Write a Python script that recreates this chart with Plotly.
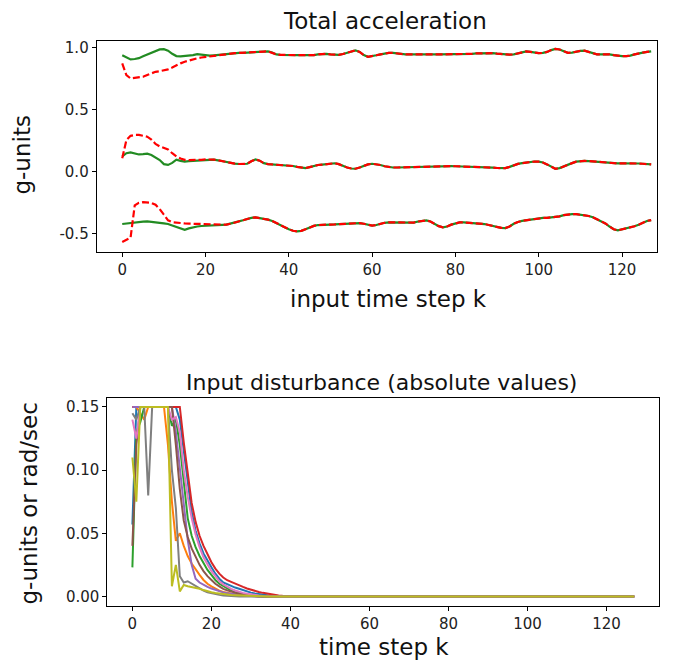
import plotly.graph_objects as go

# ---------------- data ----------------
k_steps = list(range(128))

true_upper = [0.939,0.92,0.905,0.908,0.915,0.93,0.945,0.96,0.975,0.985,0.987,0.975,0.95,0.932,0.93,0.932,0.933,0.94,0.947,0.942,
              0.935,0.935,0.938,0.942,0.944,0.947,0.952,0.955,0.957,0.958,0.96,0.96,0.96,0.965,0.968,0.97,0.96,0.945,0.942,0.94,
              0.94,0.94,0.939,0.939,0.938,0.937,0.939,0.945,0.95,0.95,0.946,0.943,0.942,0.948,0.96,0.972,0.978,0.965,0.94,0.926,
              0.93,0.938,0.945,0.952,0.957,0.957,0.952,0.947,0.945,0.945,0.946,0.947,0.947,0.946,0.945,0.945,0.945,0.945,0.944,0.945,
              0.946,0.947,0.947,0.948,0.95,0.953,0.955,0.956,0.957,0.955,0.951,0.947,0.944,0.943,0.945,0.955,0.965,0.97,0.966,0.958,
              0.955,0.957,0.965,0.98,0.99,0.985,0.97,0.958,0.96,0.968,0.974,0.975,0.966,0.953,0.945,0.945,0.947,0.946,0.94,0.933,
              0.931,0.932,0.935,0.945,0.955,0.96,0.965,0.97]
est_upper_head = [0.872,0.778,0.752,0.755,0.76,0.765,0.78,0.795,0.805,0.81,0.815,0.825,0.84,0.858,0.873,0.886,0.897,0.906,0.914,0.92,
                  0.925,0.93,0.935,0.939,0.943,0.947]

true_mid = [0.125,0.15,0.157,0.148,0.14,0.142,0.146,0.135,0.115,0.095,0.062,0.056,0.072,0.098,0.088,0.083,0.086,0.088,0.09,0.095,
            0.1,0.101,0.098,0.093,0.085,0.078,0.072,0.066,0.063,0.061,0.065,0.085,0.1,0.09,0.07,0.062,0.06,0.058,0.056,0.055,
            0.052,0.047,0.04,0.033,0.03,0.038,0.048,0.055,0.058,0.06,0.065,0.069,0.062,0.048,0.035,0.027,0.025,0.035,0.05,0.06,
            0.065,0.063,0.055,0.045,0.038,0.035,0.035,0.036,0.036,0.035,0.036,0.038,0.04,0.042,0.045,0.047,0.048,0.048,0.047,0.046,
            0.045,0.044,0.043,0.043,0.043,0.043,0.042,0.04,0.037,0.034,0.031,0.029,0.03,0.04,0.055,0.064,0.07,0.075,0.08,0.083,
            0.082,0.075,0.06,0.04,0.025,0.03,0.045,0.056,0.07,0.082,0.088,0.088,0.087,0.084,0.08,0.075,0.071,0.069,0.068,0.068,
            0.069,0.07,0.069,0.068,0.067,0.065,0.062,0.06]
est_mid_head = [0.11,0.255,0.29,0.297,0.297,0.292,0.283,0.26,0.225,0.205,0.195,0.18,0.15,0.125,0.108,0.097,0.094,0.093,0.095,0.097,
                0.1]

true_low = [-0.42,-0.415,-0.41,-0.405,-0.402,-0.4,-0.398,-0.4,-0.405,-0.41,-0.415,-0.42,-0.432,-0.445,-0.457,-0.466,-0.455,-0.445,-0.44,-0.436,
            -0.433,-0.431,-0.43,-0.428,-0.426,-0.425,-0.418,-0.408,-0.399,-0.39,-0.38,-0.37,-0.367,-0.372,-0.38,-0.385,-0.395,-0.41,-0.425,-0.445,
            -0.462,-0.474,-0.479,-0.475,-0.462,-0.447,-0.435,-0.428,-0.425,-0.424,-0.424,-0.423,-0.421,-0.42,-0.418,-0.415,-0.412,-0.412,-0.418,-0.428,
            -0.433,-0.428,-0.418,-0.41,-0.407,-0.408,-0.41,-0.411,-0.412,-0.412,-0.408,-0.4,-0.393,-0.391,-0.4,-0.418,-0.437,-0.447,-0.44,-0.425,
            -0.413,-0.407,-0.407,-0.409,-0.411,-0.412,-0.415,-0.42,-0.428,-0.437,-0.445,-0.451,-0.453,-0.44,-0.418,-0.403,-0.395,-0.39,-0.385,-0.378,
            -0.373,-0.371,-0.37,-0.367,-0.364,-0.358,-0.348,-0.341,-0.34,-0.341,-0.344,-0.348,-0.355,-0.365,-0.38,-0.395,-0.415,-0.44,-0.462,-0.471,
            -0.463,-0.452,-0.445,-0.438,-0.425,-0.408,-0.395,-0.388]
est_low_head = [-0.565,-0.545,-0.53,-0.27,-0.25,-0.244,-0.245,-0.25,-0.265,-0.3,-0.345,-0.39,-0.405,-0.41,-0.413,-0.415,-0.417,-0.418,-0.418,-0.417,
                -0.417,-0.418,-0.42,-0.423,-0.425]

est_upper = est_upper_head + true_upper[len(est_upper_head):]
est_mid = est_mid_head + true_mid[len(est_mid_head):]
est_low = est_low_head + true_low[len(est_low_head):]

dist_blue = [0.057,0.15,0.15,0.15,0.15,0.15,0.15,0.15,0.15,0.15,0.15,0.15,0.14,0.115,0.088,0.067,0.052,0.042,0.034,0.028,
             0.023,0.018,0.014,0.011,0.0095,0.0085,0.007,0.006,0.0048,0.0038,0.003,0.0023,0.0017,0.0012,0.0008,0.0005,0.0003,0.0001,0,0,
             0,0,0,0,0,0,0,0,0,0,0,0,0,0,0,0,0,0,0,0,0,0,0,0,0,0,0,0,0,0,0,0,0,0,0,0,0,0,0,0,
             0,0,0,0,0,0,0,0,0,0,0,0,0,0,0,0,0,0,0,0,0,0,0,0,0,0,0,0,0,0,0,0,0,0,0,0,0,0,0,0,
             0,0,0,0,0,0,0,0]
dist_orange = [0.15,0.15,0.145,0.14,0.15,0.15,0.15,0.15,0.15,0.12,0.075,0.044,0.05,0.04,0.032,0.026,0.021,0.017,0.013,0.01,
               0.008,0.006,0.0045,0.0035,0.0027,0.002,0.0015,0.001,0.0007,0.0005,0.0003,0.0002,0,0,0,0,0,0,0,0,
               0,0,0,0,0,0,0,0,0,0,0,0,0,0,0,0,0,0,0,0,0,0,0,0,0,0,0,0,0,0,0,0,0,0,0,0,0,0,0,0,
               0,0,0,0,0,0,0,0,0,0,0,0,0,0,0,0,0,0,0,0,0,0,0,0,0,0,0,0,0,0,0,0,0,0,0,0,0,0,0,0,
               0,0,0,0,0,0,0,0]
dist_green = [0.023,0.13,0.138,0.15,0.15,0.15,0.15,0.15,0.15,0.15,0.135,0.14,0.12,0.09,0.062,0.048,0.039,0.032,0.026,0.021,
              0.017,0.013,0.01,0.008,0.006,0.0045,0.0034,0.0025,0.0018,0.0013,0.0009,0.0006,0.0004,0.0002,0,0,0,0,0,0,
              0,0,0,0,0,0,0,0,0,0,0,0,0,0,0,0,0,0,0,0,0,0,0,0,0,0,0,0,0,0,0,0,0,0,0,0,0,0,0,0,
              0,0,0,0,0,0,0,0,0,0,0,0,0,0,0,0,0,0,0,0,0,0,0,0,0,0,0,0,0,0,0,0,0,0,0,0,0,0,0,0,
              0,0,0,0,0,0,0,0]
dist_red = [0.15,0.15,0.15,0.15,0.15,0.15,0.15,0.15,0.15,0.15,0.15,0.15,0.15,0.122,0.096,0.074,0.059,0.048,0.04,0.033,
            0.027,0.022,0.018,0.015,0.0128,0.0115,0.01,0.0087,0.0075,0.0063,0.0052,0.0043,0.0035,0.0028,0.0022,0.0017,0.0012,0.0008,0.0005,0.0003,
            0.0001,0,0,0,0,0,0,0,0,0,0,0,0,0,0,0,0,0,0,0,0,0,0,0,0,0,0,0,0,0,0,0,0,0,0,0,0,0,0,0,
            0,0,0,0,0,0,0,0,0,0,0,0,0,0,0,0,0,0,0,0,0,0,0,0,0,0,0,0,0,0,0,0,0,0,0,0,0,0,0,0,
            0,0,0,0,0,0,0,0]
dist_purple = [0.15,0.15,0.15,0.15,0.15,0.15,0.15,0.15,0.15,0.15,0.15,0.13,0.1,0.07,0.045,0.025,0.014,0.011,0.009,0.0075,
               0.0062,0.005,0.004,0.0032,0.0025,0.002,0.0015,0.0011,0.0008,0.0005,0.0003,0,0,0,0,0,0,0,0,0,
               0,0,0,0,0,0,0,0,0,0,0,0,0,0,0,0,0,0,0,0,0,0,0,0,0,0,0,0,0,0,0,0,0,0,0,0,0,0,0,0,
               0,0,0,0,0,0,0,0,0,0,0,0,0,0,0,0,0,0,0,0,0,0,0,0,0,0,0,0,0,0,0,0,0,0,0,0,0,0,0,0,
               0,0,0,0,0,0,0,0]
dist_brown = [0.04,0.12,0.15,0.15,0.15,0.15,0.15,0.15,0.15,0.15,0.15,0.12,0.085,0.06,0.047,0.038,0.031,0.025,0.02,0.016,
              0.013,0.01,0.008,0.006,0.0048,0.0037,0.0028,0.0021,0.0015,0.001,0.0007,0.0004,0.0002,0,0,0,0,0,0,0,
              0,0,0,0,0,0,0,0,0,0,0,0,0,0,0,0,0,0,0,0,0,0,0,0,0,0,0,0,0,0,0,0,0,0,0,0,0,0,0,0,
              0,0,0,0,0,0,0,0,0,0,0,0,0,0,0,0,0,0,0,0,0,0,0,0,0,0,0,0,0,0,0,0,0,0,0,0,0,0,0,0,
              0,0,0,0,0,0,0,0]
dist_pink = [0.14,0.125,0.15,0.15,0.15,0.15,0.15,0.15,0.15,0.15,0.14,0.142,0.13,0.1,0.079,0.062,0.049,0.039,0.031,0.025,
             0.02,0.016,0.012,0.0095,0.0075,0.006,0.0047,0.0036,0.0028,0.0021,0.0015,0.001,0.0007,0.0004,0.0002,0,0,0,0,0,
             0,0,0,0,0,0,0,0,0,0,0,0,0,0,0,0,0,0,0,0,0,0,0,0,0,0,0,0,0,0,0,0,0,0,0,0,0,0,0,0,
             0,0,0,0,0,0,0,0,0,0,0,0,0,0,0,0,0,0,0,0,0,0,0,0,0,0,0,0,0,0,0,0,0,0,0,0,0,0,0,0,
             0,0,0,0,0,0,0,0]
dist_gray = [0.145,0.14,0.15,0.15,0.08,0.15,0.15,0.15,0.15,0.15,0.1,0.07,0.016,0.011,0.012,0.01,0.008,0.006,0.0045,0.0033,
             0.0024,0.0017,0.0012,0.0008,0.0005,0.0003,0,0,0,0,0,0,0,0,0,0,0,0,0,0,
             0,0,0,0,0,0,0,0,0,0,0,0,0,0,0,0,0,0,0,0,0,0,0,0,0,0,0,0,0,0,0,0,0,0,0,0,0,0,0,0,
             0,0,0,0,0,0,0,0,0,0,0,0,0,0,0,0,0,0,0,0,0,0,0,0,0,0,0,0,0,0,0,0,0,0,0,0,0,0,0,0,
             0,0,0,0,0,0,0,0]
dist_olive = [0.11,0.075,0.15,0.15,0.15,0.15,0.15,0.15,0.15,0.15,0.008,0.025,0.004,0.009,0.008,0.0075,0.007,0.006,0.005,0.004,
              0.0033,0.0027,0.0022,0.0018,0.0015,0.0012,0.001,0.0008,0.0006,0.0005,0.0004,0.0003,0.0002,0.0001,0,0,0,0,0,0,
              0,0,0,0,0,0,0,0,0,0,0,0,0,0,0,0,0,0,0,0,0,0,0,0,0,0,0,0,0,0,0,0,0,0,0,0,0,0,0,0,
              0,0,0,0,0,0,0,0,0,0,0,0,0,0,0,0,0,0,0,0,0,0,0,0,0,0,0,0,0,0,0,0,0,0,0,0,0,0,0,0,
              0,0,0,0,0,0,0,0]

dist_series = [dist_blue, dist_orange, dist_green, dist_red, dist_purple,
               dist_brown, dist_pink, dist_gray, dist_olive]
dist_colors = ["#1f77b4", "#ff7f0e", "#2ca02c", "#d62728", "#9467bd",
               "#8c564b", "#e377c2", "#7f7f7f", "#bcbd22"]

x_ticks = [0, 20, 40, 60, 80, 100, 120]
top_yticks = [-0.5, 0.0, 0.5, 1.0]
top_yticklabels = ["-0.5", "0.0", "0.5", "1.0"]
bot_yticks = [0.0, 0.05, 0.10, 0.15]
bot_yticklabels = ["0.00", "0.05", "0.10", "0.15"]

# ---------------- figure ----------------
W, H = 678, 662
FONT = "DejaVu Sans"
GREEN = "#228b22"
RED = "#ff0000"

fig = go.Figure()
for s in [true_upper, true_mid, true_low]:
    fig.add_trace(go.Scatter(x=k_steps, y=s, mode="lines", xaxis="x", yaxis="y",
                             line=dict(color=GREEN, width=2.2), showlegend=False))
for s in [est_upper, est_mid, est_low]:
    fig.add_trace(go.Scatter(x=k_steps, y=s, mode="lines", xaxis="x", yaxis="y",
                             line=dict(color=RED, width=2.2, dash="7px,3px"), showlegend=False))
for s, c in zip(dist_series, dist_colors):
    fig.add_trace(go.Scatter(x=k_steps, y=s, mode="lines", xaxis="x2", yaxis="y2",
                             line=dict(color=c, width=2), showlegend=False))

def px_x(p):
    return p / W

def px_y(p):
    return 1 - p / H

axis_common = dict(showline=True, mirror=True, linecolor="#000000", linewidth=1,
                   ticks="outside", ticklen=4, tickwidth=1, tickcolor="#000000",
                   showgrid=False, zeroline=False,
                   tickfont=dict(family=FONT, size=15, color="#222222"))

fig.update_layout(
    width=W, height=H, margin=dict(l=0, r=0, t=0, b=0),
    paper_bgcolor="white", plot_bgcolor="white",
    font=dict(family=FONT, color="#111111"),
    xaxis=dict(domain=[px_x(96.7), px_x(657)], range=[-6.13, 128.4],
               tickvals=x_ticks, anchor="y", **axis_common),
    yaxis=dict(domain=[px_y(251), px_y(39)], range=[-0.647, 1.054],
               tickvals=top_yticks, ticktext=top_yticklabels, anchor="x", **axis_common),
    xaxis2=dict(domain=[px_x(107.3), px_x(659.3)], range=[-6.35, 133.35],
                tickvals=x_ticks, anchor="y2", **axis_common),
    yaxis2=dict(domain=[px_y(605.7), px_y(396.7)], range=[-0.0075, 0.1575],
                tickvals=bot_yticks, ticktext=bot_yticklabels, anchor="x2", **axis_common),
)

annots = [
    dict(text="Total acceleration", x=px_x(385), y=px_y(19), size=23, angle=0),
    dict(text="input time step k", x=px_x(388), y=px_y(298), size=23, angle=0),
    dict(text="g-units", x=px_x(22), y=px_y(154), size=23, angle=-90),
    dict(text="Input disturbance (absolute values)", x=px_x(381), y=px_y(382), size=22, angle=0),
    dict(text="time step k", x=px_x(384), y=px_y(647), size=23, angle=0),
    dict(text="g-units or rad/sec", x=px_x(29), y=px_y(503), size=23, angle=-90),
]
for a in annots:
    fig.add_annotation(text=a["text"], x=a["x"], y=a["y"], xref="paper", yref="paper",
                       xanchor="center", yanchor="middle", showarrow=False, textangle=a["angle"],
                       font=dict(family=FONT, size=a["size"], color="#111111"))

fig.write_html("out.html")
